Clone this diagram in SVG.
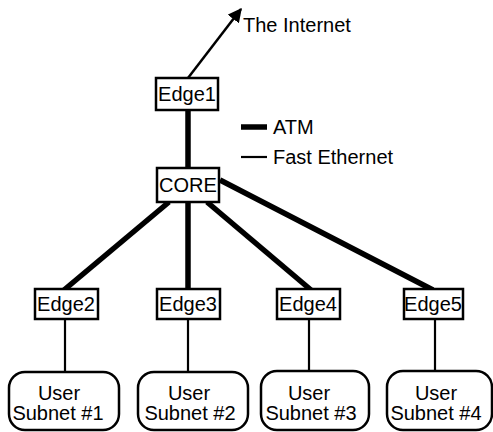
<svg xmlns="http://www.w3.org/2000/svg" width="493" height="432" viewBox="0 0 493 432">
<style>
text{font-family:"Liberation Sans",Arial,sans-serif;font-size:20px;fill:#000}
.c{text-anchor:middle}
.box{fill:#fff;stroke:#000;stroke-width:2.5}
.atm{stroke:#000;stroke-width:5.5;fill:none}
.fe{stroke:#000;stroke-width:2.2;fill:none}
</style>
<defs>
<marker id="ah" viewBox="0 0 10 10" refX="9" refY="5" markerWidth="14" markerHeight="14" markerUnits="userSpaceOnUse" orient="auto">
<path d="M0,0 L10,5 L0,10 Z" fill="#000"/>
</marker>
</defs>
<g id="connectors">
<line x1="188" y1="78" x2="241" y2="9" stroke="#000" stroke-width="2.5" marker-end="url(#ah)"/>
<line class="atm" x1="188" y1="110" x2="188" y2="168"/>
<line class="atm" x1="169" y1="202" x2="64" y2="290"/>
<line class="atm" x1="188" y1="202" x2="188" y2="290"/>
<line class="atm" x1="207" y1="202" x2="311" y2="290"/>
<line class="atm" x1="220" y1="180" x2="433" y2="290"/>
<line class="fe" x1="65" y1="319" x2="65" y2="373"/>
<line class="fe" x1="188" y1="319" x2="188" y2="373"/>
<line class="fe" x1="309" y1="319" x2="309" y2="371"/>
<line class="fe" x1="435" y1="319" x2="435" y2="371"/>
</g>
<g id="internet"><text x="243" y="32">The Internet</text></g>
<g id="legend">
<line class="atm" x1="241" y1="127" x2="267" y2="127"/>
<text x="273" y="134">ATM</text>
<line class="fe" x1="241" y1="157" x2="267" y2="157"/>
<text x="273" y="164">Fast Ethernet</text>
</g>
<g id="edge1"><rect class="box" x="156" y="78" width="62" height="32"/><text class="c" x="187" y="101">Edge1</text></g>
<g id="core"><rect class="box" x="157" y="168" width="62" height="34"/><text class="c" x="188" y="192">CORE</text></g>
<g id="edge2"><rect class="box" x="35" y="289" width="63" height="30"/><text class="c" x="66" y="311">Edge2</text></g>
<g id="edge3"><rect class="box" x="157" y="289" width="63" height="30"/><text class="c" x="188" y="311">Edge3</text></g>
<g id="edge4"><rect class="box" x="277" y="289" width="63" height="30"/><text class="c" x="308" y="311">Edge4</text></g>
<g id="edge5"><rect class="box" x="404" y="289" width="59" height="30"/><text class="c" x="433" y="311">Edge5</text></g>
<g id="subnet1"><rect class="box" x="9" y="372" width="110" height="58" rx="16"/><text class="c" x="59" y="400">User</text><text class="c" x="58" y="420">Subnet #1</text></g>
<g id="subnet2"><rect class="box" x="138" y="372" width="110" height="58" rx="16"/><text class="c" x="189" y="400">User</text><text class="c" x="190" y="420">Subnet #2</text></g>
<g id="subnet3"><rect class="box" x="261" y="371" width="108" height="59" rx="16"/><text class="c" x="309" y="400">User</text><text class="c" x="311" y="420">Subnet #3</text></g>
<g id="subnet4"><rect class="box" x="387" y="371" width="105" height="59" rx="16"/><text class="c" x="436" y="400">User</text><text class="c" x="436" y="420">Subnet #4</text></g>
</svg>
